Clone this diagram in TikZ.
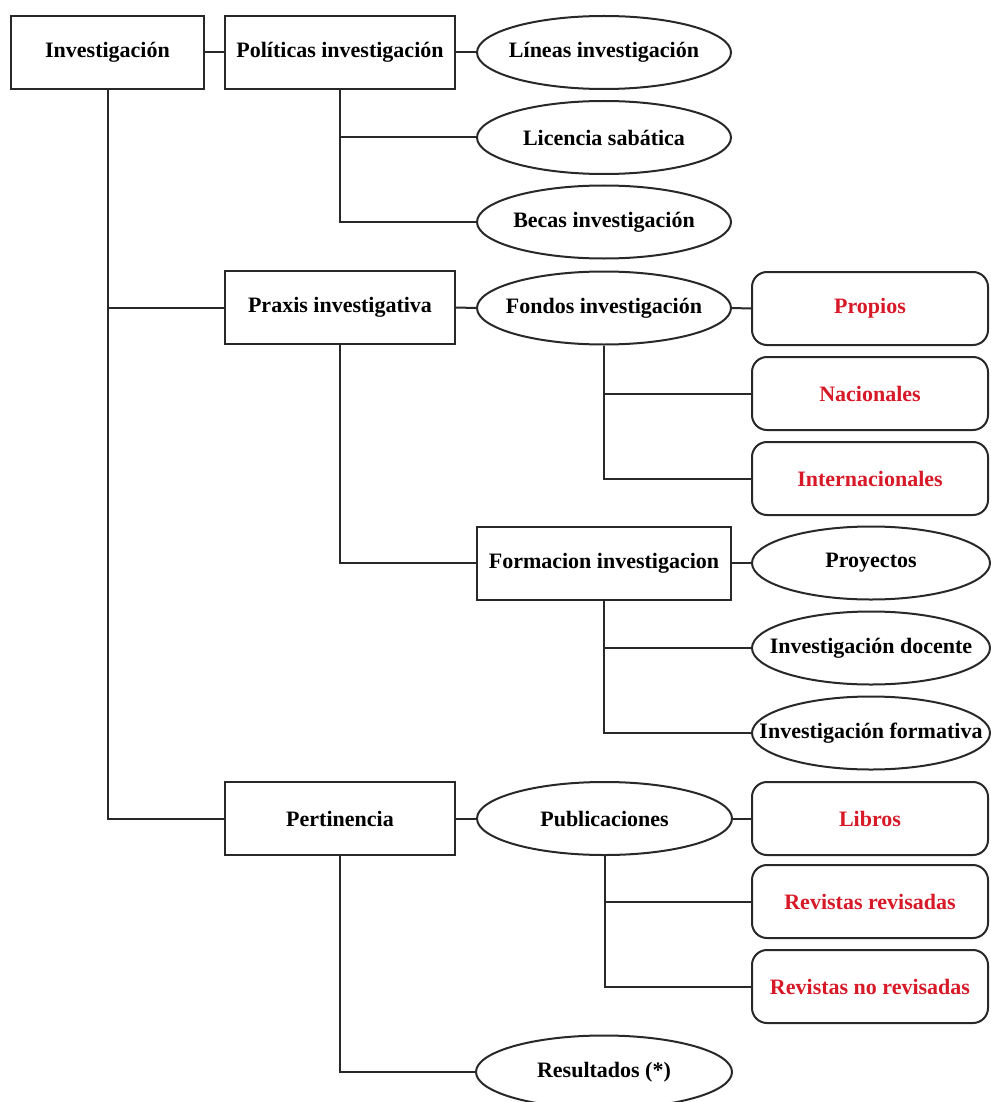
\documentclass[tikz,border=0pt]{standalone}
\usepackage{fontspec}
\setmainfont{Liberation Serif}
\usetikzlibrary{shapes.geometric}
\definecolor{lc}{RGB}{40,40,40}
\definecolor{redtxt}{RGB}{215,25,40}
\newcommand\zb[1]{\makebox[0pt]{#1}}
\tikzset{
  base/.style={draw=lc, line width=2pt, fill=white, inner sep=0pt, minimum height=73pt,
    font=\fontsize{22}{26}\selectfont\bfseries, text=black},
  sqbox/.style={base, rectangle},
  ovalbox/.style={base, ellipse},
  rbox/.style={base, rectangle, rounded corners=15pt, text=redtxt},
  link/.style={draw=lc, line width=2pt}
}
\begin{document}
\begin{tikzpicture}[x=1pt,y=-1pt]
\useasboundingbox (0,0) rectangle (990,1102);
% column 1 & 2
\node[sqbox, minimum width=193pt] (inv) at (107.5,52.5) {Investigación};
\node[sqbox, minimum width=230pt] (pol) at (340,52.5) {Políticas investigación};
\node[sqbox, minimum width=230pt] (pra) at (340,307.5) {Praxis investigativa};
\node[sqbox, minimum width=230pt] (per) at (340,818.5) {Pertinencia};
% column 3
\node[ovalbox, minimum width=254pt] (lin) at (604,52.5) {\zb{Líneas investigación}};
\node[ovalbox, minimum width=254pt] (lic) at (604,137.5) {\zb{Licencia sabática}};
\node[ovalbox, minimum width=254pt] (bec) at (604,222) {\zb{Becas investigación}};
\node[ovalbox, minimum width=254pt] (fon) at (604,308) {\zb{Fondos investigación}};
\node[sqbox, minimum width=254pt] (for) at (604,563) {Formacion investigacion};
\node[ovalbox, minimum width=255pt] (pub) at (604.5,818.5) {\zb{Publicaciones}};
\node[ovalbox, minimum width=256pt] (res) at (604,1072) {\zb{Resultados (*)}};
% column 4
\node[rbox, minimum width=236pt] (pro) at (870,308.5) {Propios};
\node[rbox, minimum width=236pt] (nac) at (870,393.5) {Nacionales};
\node[rbox, minimum width=236pt] (int) at (870,478.5) {Internacionales};
\node[ovalbox, minimum width=238pt] (pry) at (871,563) {\zb{Proyectos}};
\node[ovalbox, minimum width=238pt] (doc) at (871,648) {\zb{Investigación docente}};
\node[ovalbox, minimum width=238pt] (fmt) at (871,733) {\zb{Investigación formativa}};
\node[rbox, minimum width=236pt] (lib) at (870,818.5) {Libros};
\node[rbox, minimum width=236pt] (rr) at (870,901.5) {Revistas revisadas};
\node[rbox, minimum width=236pt] (rnr) at (870,986.5) {Revistas no revisadas};
% connectors
\draw[link] (inv.east) -- (pol.west);
\draw[link] (pol.east) -- (lin.west);
\draw[link] (pol.south) |- (lic.west);
\draw[link] (pol.south) |- (bec.west);
\draw[link] (inv.south) |- (pra.west);
\draw[link] (inv.south) |- (per.west);
\draw[link] (pra.east) -- (fon.west);
\draw[link] (fon.east) -- (pro.west);
\draw[link] (fon.south) |- (nac.west);
\draw[link] (fon.south) |- (int.west);
\draw[link] (pra.south) |- (for.west);
\draw[link] (for.east) -- (pry.west);
\draw[link] (for.south) |- (doc.west);
\draw[link] (for.south) |- (fmt.west);
\draw[link] (per.east) -- (pub.west);
\draw[link] (pub.east) -- (lib.west);
\draw[link] (pub.south) |- (rr.west);
\draw[link] (pub.south) |- (rnr.west);
\draw[link] (per.south) |- (res.west);
\end{tikzpicture}
\end{document}
